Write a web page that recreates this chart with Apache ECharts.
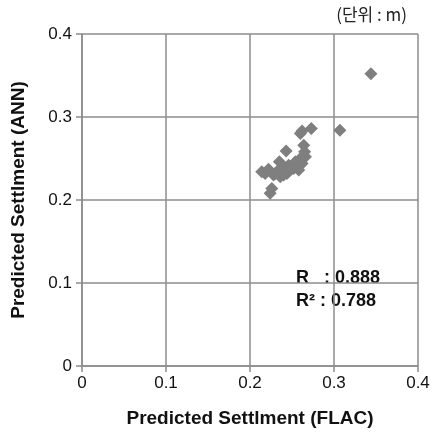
<!DOCTYPE html>
<html>
<head>
<meta charset="utf-8">
<script src="https://cdn.jsdelivr.net/npm/echarts@6/dist/echarts.min.js"></script>
<style>
  html, body { margin: 0; padding: 0; background: #fff; }
  #chart { width: 436px; height: 434px; }
</style>
</head>
<body>
<div id="chart"></div>
<script>
// predicted settlement, FLAC (x) vs ANN (y), in m
var flac = [0.344, 0.307, 0.273, 0.260, 0.264, 0.265, 0.243, 0.235, 0.214, 0.222,
            0.232, 0.240, 0.248, 0.256, 0.262, 0.260, 0.266, 0.240, 0.246, 0.228,
            0.226, 0.224, 0.218, 0.236, 0.252, 0.258, 0.230, 0.262, 0.244, 0.254];
var ann  = [0.352, 0.284, 0.286, 0.280, 0.266, 0.258, 0.259, 0.246, 0.234, 0.237,
            0.234, 0.230, 0.236, 0.240, 0.244, 0.250, 0.252, 0.240, 0.242, 0.230,
            0.214, 0.208, 0.232, 0.228, 0.238, 0.236, 0.232, 0.283, 0.232, 0.246];
var ticks = ['0', '0.1', '0.2', '0.3', '0.4'];

var points = flac.map(function (x, i) { return [x, ann[i]]; });

var chart = echarts.init(document.getElementById('chart'));

var font = 'Liberation Sans, Arial, sans-serif';
var axisLineStyle = { color: '#8c8c8c', width: 1.5 };
var labelFont = { color: '#111', fontSize: 17, fontFamily: font };
var nameFont = { fontSize: 19, fontWeight: 'bold', color: '#111', fontFamily: font };

chart.setOption({
  animation: false,
  grid: { left: 82, right: 18, top: 34, bottom: 68 },
  xAxis: {
    type: 'value', min: 0, max: 0.4, interval: 0.1,
    name: 'Predicted Settlment (FLAC)',
    nameLocation: 'middle', nameGap: 43,
    nameTextStyle: nameFont,
    axisLine: { show: true, lineStyle: axisLineStyle },
    axisTick: { show: true, length: 6, lineStyle: axisLineStyle },
    axisLabel: Object.assign({ margin: 9, formatter: function (v) { return ticks[Math.round(v * 10)]; } }, labelFont),
    splitLine: { show: true, lineStyle: axisLineStyle }
  },
  yAxis: {
    type: 'value', min: 0, max: 0.4, interval: 0.1,
    name: 'Predicted Settlment (ANN)',
    nameLocation: 'middle', nameGap: 54,
    nameTextStyle: nameFont,
    axisLine: { show: true, lineStyle: axisLineStyle },
    axisTick: { show: true, length: 6, lineStyle: axisLineStyle },
    axisLabel: Object.assign({ margin: 10, formatter: function (v) { return ticks[Math.round(v * 10)]; } }, labelFont),
    splitLine: { show: true, lineStyle: axisLineStyle }
  },
  graphic: [
    { type: 'text', right: 29, top: 6,
      style: { text: '(단위 : m)', fontSize: 17, fill: '#222', fontFamily: 'Noto Sans CJK KR' } },
    { type: 'text', left: 296, top: 269,
      style: { text: 'R   : 0.888', fontSize: 18, fontWeight: 'bold', fill: '#111', fontFamily: font } },
    { type: 'text', left: 296, top: 292,
      style: { text: 'R² : 0.788', fontSize: 18, fontWeight: 'bold', fill: '#111', fontFamily: font } }
  ],
  series: [{
    type: 'scatter',
    symbol: 'diamond',
    symbolSize: 13,
    itemStyle: { color: '#7f7f7f', opacity: 1 },
    data: points
  }]
});
</script>
</body>
</html>
